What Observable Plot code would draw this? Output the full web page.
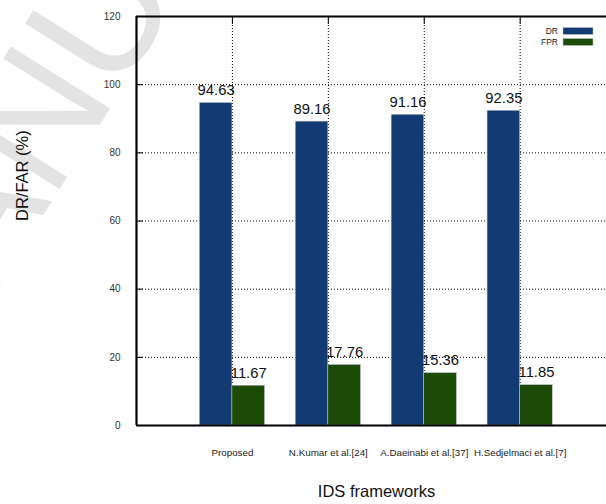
<!DOCTYPE html>
<html>
<head>
<meta charset="utf-8">
<script src="https://cdn.jsdelivr.net/npm/d3@7"></script>
<script src="https://cdn.jsdelivr.net/npm/@observablehq/plot@0.6"></script>
<style>
  html, body { margin: 0; padding: 0; background: #fff; }
  #chart svg { display: block; }
</style>
</head>
<body>
<div id="chart"></div>
<script>
// IDS frameworks compared by detection rate (DR) and false positive rate (FPR)
const frameworks = ["Proposed", "N.Kumar et al.[24]", "A.Daeinabi et al.[37]", "H.Sedjelmaci et al.[7]"];
const drValues = [94.63, 89.16, 91.16, 92.35];
const fprValues = [11.67, 17.76, 15.36, 11.85];
const seriesNames = ["DR", "FPR"];
const seriesColors = ["#133a72", "#1c4a07"];
const yTicks = [0, 20, 40, 60, 80, 100, 120];
const gridValues = [20, 40, 60, 80, 100];
const xTitle = "IDS frameworks";
const yTitle = "DR/FAR (%)";
const watermarkText = "ACCEPTED MANUSCRIPT";

// each framework sits at an integer position; its two bars flank that position
const barWidth = 0.34;
const positions = frameworks.map((_, i) => i + 1);
const bars = frameworks.flatMap((name, i) => [
  {name, series: "DR", x1: i + 1 - barWidth, x2: i + 1, value: drValues[i]},
  {name, series: "FPR", x1: i + 1, x2: i + 1 + barWidth, value: fprValues[i]}
]);

const font = "'Liberation Sans', Arial, Helvetica, sans-serif";

// faint diagonal stamp behind the chart
function watermark() {
  return d3.create("svg:text")
    .attr("transform", "translate(-83,417) rotate(-58)")
    .attr("font-family", font)
    .attr("font-size", 170)
    .attr("fill", "#e3e3e3")
    .attr("text-anchor", "start")
    .text(watermarkText.split(" ")[1])
    .node();
}

// key in the upper right corner of the frame
function legend(index, scales, values, dims) {
  const g = d3.create("svg:g").attr("font-family", font).attr("font-size", 8.5);
  const right = dims.width - dims.marginRight - 13;
  seriesNames.forEach((s, i) => {
    const cy = dims.marginTop + 15 + i * 11;
    g.append("text")
      .attr("x", right - 35).attr("y", cy)
      .attr("text-anchor", "end").attr("dy", "0.35em")
      .attr("fill", "#222").text(s);
    g.append("rect")
      .attr("x", right - 30).attr("y", cy - 3.5)
      .attr("width", 30).attr("height", 7)
      .attr("fill", seriesColors[i])
      .attr("stroke", "#b8bcc4").attr("stroke-width", 0.6);
  });
  return g.node();
}

const chart = Plot.plot({
  width: 606,
  height: 504,
  marginTop: 16,
  marginBottom: 79,
  marginLeft: 136,
  marginRight: 0,
  style: {fontFamily: font, background: "#fff"},
  x: {type: "linear", domain: [0, 4.9], axis: null},
  y: {domain: [0, 120], axis: null},
  color: {domain: seriesNames, range: seriesColors},
  marks: [
    watermark,
    Plot.ruleY(gridValues, {stroke: "#000", strokeWidth: 1, strokeDasharray: "1,2"}),
    Plot.ruleX(positions, {y1: 0, y2: 120, stroke: "#000", strokeWidth: 1, strokeDasharray: "1,2"}),
    Plot.rect(bars, {x1: "x1", x2: "x2", y1: 0, y2: "value", fill: "series", stroke: "#c4c8d0", strokeWidth: 0.5}),
    Plot.text(bars, {
      x: d => (d.x1 + d.x2) / 2, y: "value", text: d => d.value.toFixed(2),
      lineAnchor: "bottom", dy: -8, fontSize: 14.8, fill: "#111"
    }),
    Plot.axisY({ticks: yTicks, tickSize: 0, tickPadding: 16, fontSize: 10, color: "#333", label: null}),
    Plot.axisY({ticks: yTicks, tickSize: -7, tickFormat: () => "", color: "#000", label: null}),
    Plot.axisX({ticks: positions, tickSize: 0, tickPadding: 24, fontSize: 9.8, color: "#222", label: null, tickFormat: p => frameworks[p - 1]}),
    Plot.axisX({anchor: "top", ticks: positions, tickSize: -7, tickFormat: () => "", color: "#000", label: null}),
    Plot.ruleX([0], {y1: 0, y2: 120, strokeWidth: 2.2, stroke: "#000"}),
    Plot.ruleY([0, 120], {x1: 0, x2: 4.9, strokeWidth: 2.2, stroke: "#000"}),
    Plot.text([yTitle], {frameAnchor: "left", dx: -114, rotate: -90, fontSize: 16.5, fill: "#111"}),
    Plot.text([xTitle], {frameAnchor: "bottom", dx: 5, dy: 71, fontSize: 16.5, fill: "#111"}),
    legend
  ]
});

document.getElementById("chart").append(chart);
</script>
</body>
</html>
